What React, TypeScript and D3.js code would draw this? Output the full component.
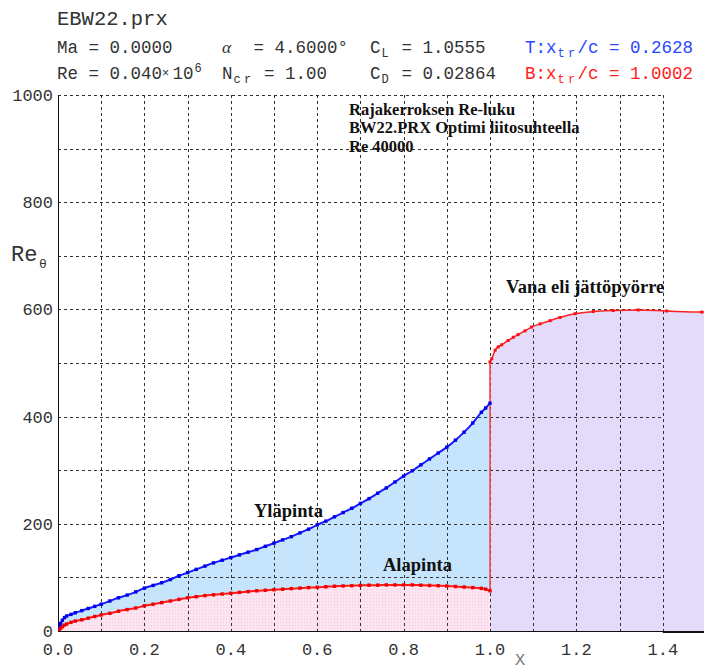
import React from "react";
import * as d3 from "d3";

// ---- data ----
const xUpper = [0, 0.003, 0.006, 0.01, 0.015, 0.02, 0.03, 0.04, 0.055, 0.07, 0.085, 0.1, 0.12, 0.14, 0.16, 0.18, 0.2, 0.22, 0.24, 0.26, 0.28, 0.3, 0.32, 0.34, 0.36, 0.38, 0.4, 0.42, 0.44, 0.46, 0.48, 0.5, 0.52, 0.54, 0.56, 0.58, 0.6, 0.62, 0.64, 0.66, 0.68, 0.7, 0.72, 0.74, 0.76, 0.78, 0.8, 0.82, 0.84, 0.86, 0.88, 0.9, 0.92, 0.94, 0.96, 0.98, 0.99, 1.0];
const reUpper = [0, 8, 14, 20, 25, 28, 31, 34, 38, 42, 46, 50, 56, 62, 67, 73, 80, 85, 90, 96, 103, 109, 115, 121, 127, 132, 137, 142, 147, 152, 158, 164, 170, 176, 183, 190, 198, 205, 213, 221, 229, 238, 247, 257, 267, 278, 289, 299, 310, 321, 332, 343, 356, 371, 388, 408, 416, 425];

const xLower = [0, 0.003, 0.006, 0.01, 0.015, 0.02, 0.03, 0.04, 0.055, 0.07, 0.085, 0.1, 0.12, 0.14, 0.16, 0.18, 0.2, 0.22, 0.24, 0.26, 0.28, 0.3, 0.32, 0.34, 0.36, 0.38, 0.4, 0.42, 0.44, 0.46, 0.48, 0.5, 0.52, 0.54, 0.56, 0.58, 0.6, 0.62, 0.64, 0.66, 0.68, 0.7, 0.72, 0.74, 0.76, 0.78, 0.8, 0.82, 0.84, 0.86, 0.88, 0.9, 0.92, 0.94, 0.96, 0.98, 0.99, 1.0];
const reLower = [0, 2, 5, 8, 11, 13, 16, 18.5, 21, 24, 27, 30, 33, 37, 40, 43, 47, 50, 53, 56, 59, 62, 64, 66, 67.5, 69, 70.5, 72, 73.5, 75, 76, 77, 78, 79, 80, 81, 81.5, 82.5, 83.5, 84, 84.5, 85, 85.5, 85.5, 86, 86, 86, 86, 85.5, 85, 84.5, 84, 83, 82, 81, 79.5, 78, 75];

const xWake = [1.0, 1.004, 1.012, 1.019, 1.027, 1.042, 1.054, 1.065, 1.081, 1.096, 1.116, 1.139, 1.162, 1.197, 1.239, 1.285, 1.343, 1.409, 1.49, 1.52];
const reWake = [502, 508, 524, 530, 534, 542, 548, 553, 560, 567, 573, 579, 585, 592, 596, 598, 599, 597, 595, 595];

const xTicks = [0, 0.2, 0.4, 0.6, 0.8, 1.0, 1.2, 1.4];
const xGrid = [0.1, 0.2, 0.3, 0.4, 0.5, 0.6, 0.7, 0.8, 0.9, 1.0, 1.1, 1.2, 1.3, 1.4];
const yTicks = [0, 200, 400, 600, 800, 1000];
const yGrid = [100, 200, 300, 400, 500, 600, 700, 800, 900, 1000];

const titleText = "EBW22.prx";
const noteLines = ["Rajakerroksen Re-luku", "BW22.PRX Optimi liitosuhteella", "Re 40000"];

type Seg = { t: string; sub?: boolean; sup?: boolean; small?: boolean; italic?: boolean };
const row2: { x: number; color: string; segs: Seg[] }[] = [
  { x: 57, color: "#333", segs: [{ t: "Ma = 0.0000" }] },
  { x: 222, color: "#333", segs: [{ t: "α", italic: true }, { t: "  = 4.6000°" }] },
  { x: 370, color: "#333", segs: [{ t: "C" }, { t: "L", sub: true }, { t: " = 1.0555" }] },
  { x: 525, color: "#2848ff", segs: [{ t: "T:x" }, { t: "tr", sub: true }, { t: "/c = 0.2628" }] },
];
const row3: { x: number; color: string; segs: Seg[] }[] = [
  { x: 57, color: "#333", segs: [{ t: "Re = 0.040" }, { t: "×", small: true }, { t: "10" }, { t: "6", sup: true }] },
  { x: 222, color: "#333", segs: [{ t: "N" }, { t: "cr", sub: true }, { t: " = 1.00" }] },
  { x: 370, color: "#333", segs: [{ t: "C" }, { t: "D", sub: true }, { t: " = 0.02864" }] },
  { x: 525, color: "#ff2020", segs: [{ t: "B:x" }, { t: "tr", sub: true }, { t: "/c = 1.0002" }] },
];

const W = 704;
const H = 669;
const mono = "'Liberation Mono', 'DejaVu Sans Mono', monospace";
const serif = "'Liberation Serif', 'Times New Roman', serif";
const CW = 10.5;
const FS = 17.5;

function MonoRow({ x, y, color, segs }: { x: number; y: number; color: string; segs: Seg[] }) {
  let i = 0;
  const els: React.ReactNode[] = [];
  segs.forEach((s, k) => {
    const chars = s.t.split("");
    chars.forEach((c, j) => {
      const cx = x + (i + j) * CW + (s.sub || s.sup ? 1 : 0);
      const cy = y + (s.sub ? 4 : s.sup ? -7 : s.small ? -2 : 0);
      const fs = s.sub || s.sup ? 12 : s.small ? 12 : FS;
      els.push(
        <text key={k + "-" + j} x={cx} y={cy} fontSize={fs} fill={color} fontFamily={s.italic ? serif : mono} fontStyle={s.italic ? "italic" : "normal"}>
          {c}
        </text>
      );
    });
    i += chars.length;
  });
  return <g>{els}</g>;
}

export default function App() {
  const x = d3.scaleLinear().domain([0, 1.4]).range([58, 662.8]);
  const y = d3.scaleLinear().domain([0, 1000]).range([631, 95]);

  const upper = xUpper.map((v, i) => [v, reUpper[i]] as [number, number]);
  const lower = xLower.map((v, i) => [v, reLower[i]] as [number, number]);
  const wake = xWake.map((v, i) => [v, reWake[i]] as [number, number]);

  const area = d3.area<[number, number]>().x((d) => x(d[0])).y0(y(0)).y1((d) => y(d[1])).curve(d3.curveMonotoneX);
  const line = d3.line<[number, number]>().x((d) => x(d[0])).y((d) => y(d[1])).curve(d3.curveMonotoneX);

  const lastLow = lower[lower.length - 1];
  const firstWake = wake[0];

  return (
    <svg width={W} height={H} style={{ position: "absolute", left: 0, top: 0, background: "#fff" }}>
      <defs>
        <pattern id="pinkDots" width="3" height="3" patternUnits="userSpaceOnUse">
          <rect width="3" height="3" fill="#fde4f1" />
          <rect x="1" y="1" width="1" height="1" fill="#f6c6de" />
        </pattern>
        <clipPath id="plotClip">
          <rect x={58} y={90} width={W - 58} height={631 - 90} />
        </clipPath>
      </defs>

      {/* fills */}
      <g clipPath="url(#plotClip)">
        <path d={area([[1.0, 0], ...wake]) || ""} fill="#e4dbfb" />
        <path d={area(upper) || ""} fill="#c6e4fb" />
        <path d={area(lower) || ""} fill="url(#pinkDots)" />
      </g>

      {/* grid */}
      <g stroke="#333" strokeWidth={1} strokeDasharray="3,3" shapeRendering="crispEdges">
        {yGrid.map((v) => (
          <line key={"h" + v} x1={x(0)} x2={x(1.4)} y1={Math.round(y(v)) + 0.5} y2={Math.round(y(v)) + 0.5} />
        ))}
        {xGrid.map((v) => (
          <line key={"v" + v} x1={Math.round(x(v)) + 0.5} x2={Math.round(x(v)) + 0.5} y1={y(1000)} y2={y(0)} />
        ))}
      </g>

      {/* axes */}
      <line x1={58.5} x2={58.5} y1={y(1000)} y2={y(0) + 1} stroke="#111" strokeWidth={1} />
      <line x1={58} x2={W} y1={631.5} y2={631.5} stroke="#111" strokeWidth={1} />
      <line x1={x(1.4)} x2={W} y1={632} y2={632} stroke="#111" strokeWidth={2} />

      {/* curves */}
      <g clipPath="url(#plotClip)">
        <line x1={x(1.0)} x2={x(1.0)} y1={y(lastLow[1])} y2={y(firstWake[1])} stroke="#ff3b3b" strokeWidth={1.5} />
        <path d={line(wake) || ""} fill="none" stroke="#ff2020" strokeWidth={1.5} />
        {wake.map((d, i) => (
          <rect key={"w" + i} x={x(d[0]) - 1.5} y={y(d[1]) - 1.5} width={3} height={3} fill="#ff1010" />
        ))}
        <path d={line(upper) || ""} fill="none" stroke="#1a1aff" strokeWidth={2} />
        {upper.map((d, i) => (
          <rect key={"u" + i} x={x(d[0]) - 1.7} y={y(d[1]) - 1.7} width={3.4} height={3.4} fill="#0000ee" />
        ))}
        <path d={line(lower) || ""} fill="none" stroke="#ff1a1a" strokeWidth={2} />
        {lower.map((d, i) => (
          <rect key={"l" + i} x={x(d[0]) - 1.7} y={y(d[1]) - 1.7} width={3.4} height={3.4} fill="#ee0000" />
        ))}
      </g>

      {/* y tick labels */}
      {yTicks.map((v) => (
        <text key={"yt" + v} x={53} y={y(v) + 6} textAnchor="end" fontFamily={mono} fontSize={17} fill="#333">
          {v}
        </text>
      ))}
      {/* x tick labels */}
      {xTicks.map((v) => (
        <text key={"xt" + v} x={x(v)} y={655} textAnchor="middle" fontFamily={mono} fontSize={17} fill="#333">
          {v.toFixed(1)}
        </text>
      ))}
      <text x={520} y={665} textAnchor="middle" fontFamily={mono} fontSize={17} fill="#777">
        X
      </text>

      {/* y axis label */}
      <text x={11} y={261} fontFamily={mono} fontSize={22} fill="#333">
        Re
      </text>
      <text x={39} y={268} fontFamily={mono} fontSize={13} fill="#333">
        θ
      </text>

      {/* header */}
      <text x={57} y={25} fontFamily={mono} fontSize={20.5} fill="#333">
        {titleText}
      </text>
      {row2.map((r, i) => (
        <MonoRow key={"r2" + i} x={r.x} y={53} color={r.color} segs={r.segs} />
      ))}
      {row3.map((r, i) => (
        <MonoRow key={"r3" + i} x={r.x} y={79} color={r.color} segs={r.segs} />
      ))}

      {/* annotations */}
      {noteLines.map((t, i) => (
        <text key={"n" + i} x={349} y={115 + i * 18.3} fontFamily={serif} fontWeight="bold" fontSize={16.5} fill="#111">
          {t}
        </text>
      ))}
      <text x={506} y={293} fontFamily={serif} fontWeight="bold" fontSize={18.5} fill="#111">
        Vana eli jättöpyörre
      </text>
      <text x={254} y={517} fontFamily={serif} fontWeight="bold" fontSize={18.5} fill="#111">
        Yläpinta
      </text>
      <text x={383} y={571} fontFamily={serif} fontWeight="bold" fontSize={18.5} fill="#111">
        Alapinta
      </text>
    </svg>
  );
}
